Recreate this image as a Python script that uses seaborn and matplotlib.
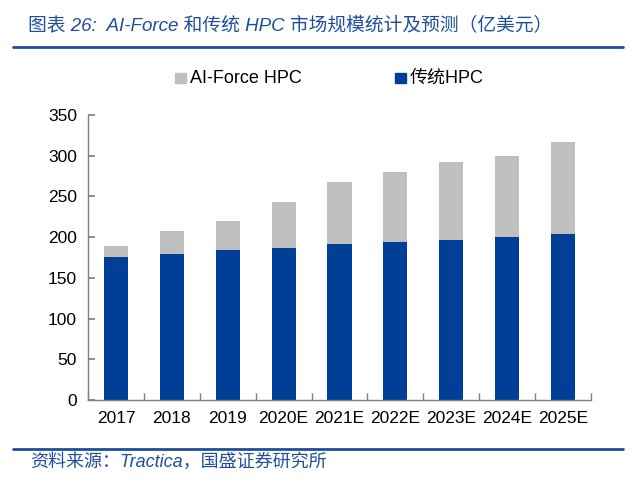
import matplotlib
matplotlib.use("Agg")
import matplotlib.pyplot as plt
import seaborn as sns
import pandas as pd
from matplotlib.ticker import FixedLocator
from matplotlib.lines import Line2D
from matplotlib.patches import Rectangle

years = ["2017", "2018", "2019", "2020E", "2021E", "2022E", "2023E", "2024E", "2025E"]
traditional_hpc = [175.5, 179.7, 183.8, 186.7, 191.0, 193.6, 196.5, 200.6, 203.9]
ai_force_hpc = [13.5, 27.8, 36.2, 56.8, 77.0, 86.4, 96.2, 98.6, 112.9]
yticks = [0, 50, 100, 150, 200, 250, 300, 350]

BLUE = "#003f98"
GRAY = "#bfbfbf"
TITLE_BLUE = "#1f4e9c"

sns.set_theme(style="white")
plt.rcParams["font.family"] = ["Liberation Sans", "Noto Sans CJK SC", "DejaVu Sans"]

df = pd.DataFrame({
    "year": years,
    "traditional": traditional_hpc,
    "total": [a + b for a, b in zip(traditional_hpc, ai_force_hpc)],
})

fig = plt.figure(figsize=(6.4, 4.94), dpi=100)
ax = fig.add_axes([88 / 640, 1 - 400 / 494, (591 - 88) / 640, (400 - 115) / 494])

sns.barplot(data=df, x="year", y="total", color=GRAY, width=0.43, ax=ax,
            saturation=1, edgecolor="none")
sns.barplot(data=df, x="year", y="traditional", color=BLUE, width=0.43, ax=ax,
            saturation=1, edgecolor="none")

ax.set_xlim(-0.5, len(years) - 0.5)
ax.set_ylim(0, 350)
ax.set_yticks(yticks)
ax.set_xlabel("")
ax.set_ylabel("")
for s in ["top", "right"]:
    ax.spines[s].set_visible(False)
for s in ["left", "bottom"]:
    ax.spines[s].set_color("#808080")
    ax.spines[s].set_linewidth(1.0)

ax.tick_params(axis="y", which="major", direction="in", length=5, color="#808080",
               labelsize=12.5, pad=8, left=True, labelcolor="black")
ax.tick_params(axis="x", which="major", length=0, labelsize=12.5, pad=8, labelcolor="black")
ax.xaxis.set_minor_locator(FixedLocator([i - 0.5 for i in range(len(years) + 1)]))
ax.tick_params(axis="x", which="minor", direction="in", length=5, color="#808080", bottom=True)
for lab in ax.get_xticklabels() + ax.get_yticklabels():
    lab.set_family(["Liberation Sans", "DejaVu Sans"])

# legend
fig.patches.append(Rectangle((175 / 640, 1 - 83 / 494), 11 / 640, 10 / 494,
                             transform=fig.transFigure, color=GRAY, figure=fig))
fig.text(190 / 640, 1 - 78 / 494, "AI-Force HPC", fontsize=13, va="center", ha="left",
         color="black")
fig.patches.append(Rectangle((395 / 640, 1 - 83 / 494), 11 / 640, 10 / 494,
                             transform=fig.transFigure, color=BLUE, figure=fig))
fig.text(410 / 640, 1 - 78 / 494, "传统HPC", fontsize=13, va="center", ha="left",
         color="black")

# title and rules
fig.text(28 / 640, 1 - 26 / 494, "图表 26:  AI-Force 和传统 HPC 市场规模统计及预测（亿美元）",
         fontsize=13.5, style="italic", color=TITLE_BLUE, va="center", ha="left")
fig.add_artist(Line2D([13 / 640, 623 / 640], [1 - 47 / 494, 1 - 47 / 494],
                      transform=fig.transFigure, color=TITLE_BLUE, linewidth=2))
fig.add_artist(Line2D([13 / 640, 623 / 640], [1 - 449 / 494, 1 - 449 / 494],
                      transform=fig.transFigure, color=TITLE_BLUE, linewidth=2))
fig.text(30 / 640, 1 - 462 / 494, "资料来源：Tractica，国盛证券研究所",
         fontsize=13, style="italic", color=TITLE_BLUE, va="center", ha="left")

fig.savefig("out.png", dpi=100)
